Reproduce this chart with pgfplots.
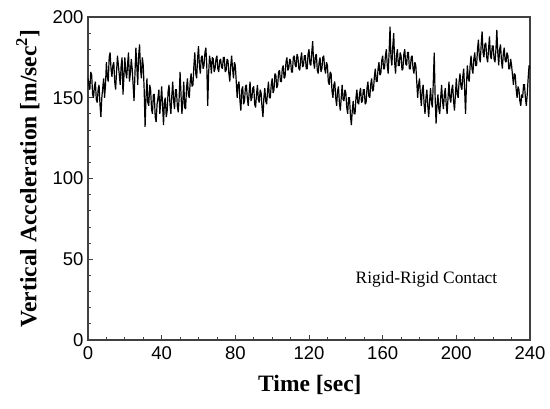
\documentclass[border=0pt]{standalone}
\usepackage{fontspec}
\setmainfont{Liberation Serif}
\newfontfamily\arial{Liberation Sans}
\usepackage{pgfplots}
\pgfplotsset{compat=1.18}
\begin{document}
\begin{tikzpicture}
\begin{axis}[
  scale only axis,
  width=442pt, height=323pt,
  xmin=0, xmax=240, ymin=0, ymax=200,
  xtick={0,40,...,240}, ytick={0,50,...,200},
  minor x tick num=3, minor y tick num=4,
  tick align=inside, xtick pos=bottom, ytick pos=left,
  major tick length=5pt, minor tick length=3pt,
  axis line style={black!75, line width=1.2pt},
  every tick/.style={black!75, line width=0.8pt},
  /pgf/number format/assume math mode=true,
  ticklabel style={font=\arial\fontsize{18.5}{20}\selectfont},
  yticklabel style={xshift=-1pt},
  xticklabel style={yshift=-3pt},
  xlabel={Time [sec]},
  ylabel={Vertical Acceleration [m/sec\textsuperscript{2}]},
  every axis x label/.style={at={(axis description cs:0.502,-0.139)}, anchor=center, font=\bfseries\fontsize{23.5}{26}\selectfont},
  every axis y label/.style={at={(axis description cs:-0.136,0.5)}, rotate=90, anchor=center, font=\bfseries\fontsize{23.5}{26}\selectfont},
  clip=true,
]
\addplot[black, line width=1.2pt, line join=miter, miter limit=2] coordinates {
(0,162)(0.5,158)(1,155)(1.5,166)(2,164)(2.5,152)(3,150)(3.5,157)(4,160)(4.5,149)
(5,147)(5.5,155)(6,158)(6.5,146)(7,138)(7.5,150)(8,156)(8.5,162)(9,150)(9.5,158)
(10,172)(10.5,163)(11,160)(11.5,175)(12,178)(12.5,168)(13,163)(13.5,170)(14,172)(14.5,160)
(15,155)(15.5,166)(16,176)(16.5,170)(17,164)(17.5,158)(18,170)(18.5,175)(19,152)(19.5,163)
(20,175)(20.5,166)(21,162)(21.5,171)(22,178)(22.5,160)(23,165)(23.5,174)(24,168)(24.5,158)
(25,148)(25.5,165)(26,181)(26.5,170)(27,158)(27.5,176)(28,183)(28.5,168)(29,162)(29.5,175)
(30,170)(30.5,155)(31,132)(31.5,150)(32,162)(32.5,147)(33,145)(33.5,158)(34,155)(34.5,143)
(35,140)(35.5,152)(36,152)(36.5,138)(37,135)(37.5,146)(38,150)(38.5,155)(39,140)(39.5,148)
(40,157)(40.5,145)(41,133)(41.5,148)(42,150)(42.5,138)(43,142)(43.5,154)(44,158)(44.5,146)
(45,140)(45.5,151)(46,160)(46.5,148)(47,143)(47.5,155)(48,155)(48.5,145)(49,141)(49.5,150)
(50,166)(50.5,152)(51,140)(51.5,148)(52,160)(52.5,144)(53,143)(53.5,156)(54,162)(54.5,152)
(55,150)(55.5,160)(56,165)(56.5,157)(57,158)(57.5,170)(58,178)(58.5,165)(59,162)(59.5,174)
(60,182)(60.5,170)(61,165)(61.5,175)(62,176)(62.5,168)(63,170)(63.5,178)(64,181)(64.5,170)
(65,145)(65.5,165)(66,176)(66.5,172)(67,165)(67.5,175)(68,174)(68.5,166)(69,168)(69.5,174)
(70,176)(70.5,168)(71,166)(71.5,173)(72,174)(72.5,169)(73,168)(73.5,175)(74,175)(74.5,166)
(75,167)(75.5,174)(76,173)(76.5,165)(77,160)(77.5,170)(78,176)(78.5,168)(79,162)(79.5,172)
(80,170)(80.5,160)(81,150)(81.5,158)(82,160)(82.5,148)(83,142)(83.5,155)(84,157)(84.5,146)
(85,148)(85.5,157)(86,158)(86.5,150)(87,145)(87.5,153)(88,160)(88.5,148)(89,150)(89.5,156)
(90,157)(90.5,146)(91,144)(91.5,152)(92,158)(92.5,149)(93,147)(93.5,155)(94,153)(94.5,144)
(95,138)(95.5,150)(96,156)(96.5,148)(97,146)(97.5,154)(98,160)(98.5,150)(99,150)(99.5,158)
(100,162)(100.5,153)(101,155)(101.5,165)(102,164)(102.5,156)(103,158)(103.5,166)(104,167)(104.5,160)
(105,160)(105.5,168)(106,170)(106.5,162)(107,163)(107.5,172)(108,175)(108.5,167)(109,168)(109.5,174)
(110,173)(110.5,166)(111,166)(111.5,175)(112,176)(112.5,170)(113,169)(113.5,177)(114,175)(114.5,168)
(115,167)(115.5,174)(116,178)(116.5,169)(117,170)(117.5,176)(118,176)(118.5,168)(119,168)(119.5,177)
(120,180)(120.5,171)(121,170)(121.5,178)(122,185)(122.5,172)(123,168)(123.5,176)(124,177)(124.5,167)
(125,165)(125.5,172)(126,175)(126.5,166)(127,168)(127.5,175)(128,176)(128.5,168)(129,165)(129.5,172)
(130,170)(130.5,160)(131,158)(131.5,166)(132,165)(132.5,154)(133,150)(133.5,158)(134,160)(134.5,150)
(135,145)(135.5,154)(136,157)(136.5,147)(137,142)(137.5,150)(138,158)(138.5,149)(139,148)(139.5,155)
(140,153)(140.5,144)(141,140)(141.5,150)(142,150)(142.5,139)(143,133)(143.5,142)(144,148)(144.5,140)
(145,140)(145.5,150)(146,155)(146.5,147)(147,146)(147.5,153)(148,156)(148.5,147)(149,148)(149.5,155)
(150,155)(150.5,146)(151,147)(151.5,156)(152,160)(152.5,151)(153,150)(153.5,158)(154,162)(154.5,154)
(155,155)(155.5,163)(156,168)(156.5,160)(157,160)(157.5,168)(158,172)(158.5,164)(159,165)(159.5,173)
(160,176)(160.5,168)(161,168)(161.5,176)(162,180)(162.5,170)(163,165)(163.5,178)(164,194)(164.5,175)
(165,170)(165.5,182)(166,190)(166.5,172)(167,165)(167.5,176)(168,180)(168.5,170)(169,170)(169.5,178)
(170,176)(170.5,167)(171,168)(171.5,177)(172,180)(172.5,171)(173,170)(173.5,178)(174,178)(174.5,168)
(175,168)(175.5,175)(176,176)(176.5,168)(177,165)(177.5,172)(178,170)(178.5,160)(179,150)(179.5,158)
(180,162)(180.5,152)(181,145)(181.5,155)(182,158)(182.5,146)(183,140)(183.5,150)(184,155)(184.5,145)
(185,138)(185.5,148)(186,156)(186.5,147)(187,144)(187.5,160)(188,178)(188.5,150)(189,134)(189.5,145)
(190,152)(190.5,143)(191,140)(191.5,150)(192,158)(192.5,148)(193,143)(193.5,152)(194,156)(194.5,146)
(195,140)(195.5,150)(196,160)(196.5,150)(197,147)(197.5,155)(198,158)(198.5,148)(199,142)(199.5,152)
(200,162)(200.5,152)(201,150)(201.5,160)(202,165)(202.5,157)(203,155)(203.5,163)(204,168)(204.5,155)
(205,140)(205.5,158)(206,170)(206.5,162)(207,160)(207.5,170)(208,176)(208.5,168)(209,165)(209.5,174)
(210,178)(210.5,170)(211,170)(211.5,180)(212,186)(212.5,175)(213,172)(213.5,183)(214,191)(214.5,178)
(215,175)(215.5,183)(216,184)(216.5,175)(217,172)(217.5,180)(218,188)(218.5,176)(219,174)(219.5,182)
(220,182)(220.5,174)(221,172)(221.5,180)(222,192)(222.5,178)(223,170)(223.5,180)(224,183)(224.5,173)
(225,168)(225.5,177)(226,181)(226.5,173)(227,172)(227.5,178)(228,176)(228.5,168)(229,168)(229.5,174)
(230,170)(230.5,164)(231,158)(231.5,165)(232,164)(232.5,155)(233,150)(233.5,157)(234,155)(234.5,148)
(235,145)(235.5,152)(236,150)(236.5,158)(237,158)(237.5,150)(238,145)(238.5,152)(239,162)(239.5,170)
(240,168)
};
\node[font=\fontsize{17.4}{19}\selectfont, anchor=center] at (axis cs:183.8,37.8) {Rigid-Rigid Contact};
\coordinate (sw) at (rel axis cs:0,0);
\end{axis}
\pgfresetboundingbox
\path[use as bounding box] ([shift={(-88pt,-69pt)}]sw) rectangle ([shift={(462pt,340pt)}]sw);
\end{tikzpicture}
\end{document}
